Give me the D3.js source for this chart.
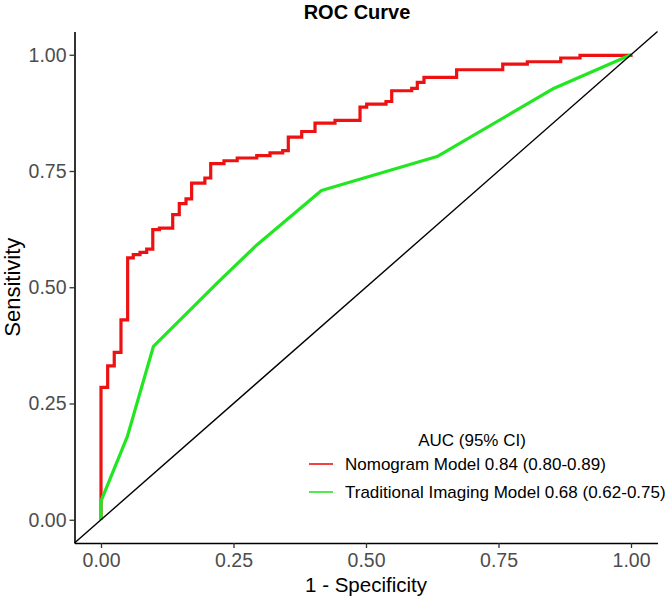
<!DOCTYPE html>
<html>
<head>
<meta charset="utf-8">
<script src="https://cdn.jsdelivr.net/npm/d3@7"></script>
<style>
  body { margin: 0; background: #fff; }
  text { font-family: "Liberation Sans", Arial, sans-serif; }
</style>
</head>
<body>
<svg id="chart"></svg>
<script>
// Nomogram model ROC (step curve)
const nomoFpr = [0, 0, 0.0126, 0.025, 0.0377, 0.0503, 0.0609, 0.0736, 0.0862, 0.0977, 0.1102, 0.1353, 0.1477, 0.1604, 0.171, 0.196, 0.207, 0.232, 0.257, 0.2938, 0.3189, 0.3428, 0.3534, 0.3787, 0.4038, 0.4415, 0.4887, 0.5013, 0.5377, 0.5485, 0.5862, 0.5968, 0.6094, 0.671, 0.758, 0.8044, 0.8674, 0.9038, 1];
const nomoTpr = [0, 0.2845, 0.331, 0.360, 0.430, 0.563, 0.570, 0.575, 0.582, 0.624, 0.627, 0.656, 0.680, 0.690, 0.724, 0.735, 0.766, 0.772, 0.778, 0.783, 0.789, 0.794, 0.823, 0.835, 0.853, 0.859, 0.8875, 0.894, 0.8995, 0.9226, 0.9275, 0.9404, 0.9512, 0.9677, 0.980, 0.985, 0.993, 0.9985, 1];

// Traditional imaging model ROC (few thresholds)
const tradFpr = [0, 0, 0.05, 0.099, 0.22, 0.294, 0.416, 0.634, 0.855, 1];
const tradTpr = [0, 0.04, 0.18, 0.373, 0.51, 0.591, 0.708, 0.781, 0.928, 1];

const xTicks = [0, 0.25, 0.5, 0.75, 1];
const yTicks = [0, 0.25, 0.5, 0.75, 1];
const legendTitle = "AUC (95% CI)";
const legendLabels = ["Nomogram Model 0.84 (0.80-0.89)", "Traditional Imaging Model 0.68 (0.62-0.75)"];
const colors = ["#ee1111", "#22e622"];

const width = 669, height = 600;
const svg = d3.select("#chart").attr("width", width).attr("height", height);

// panel with ggplot-like 5% expansion
const x = d3.scaleLinear().domain([-0.05, 1.05]).range([74.5, 657.5]);
const y = d3.scaleLinear().domain([-0.05, 1.05]).range([543, 31.5]);

const line = d3.line().x(d => x(d[0])).y(d => y(d[1]));
const stepLine = d3.line().x(d => x(d[0])).y(d => y(d[1])).curve(d3.curveStepAfter);

const nomo = nomoFpr.map((v, i) => [v, nomoTpr[i]]);
const trad = tradFpr.map((v, i) => [v, tradTpr[i]]);

svg.append("path").datum(nomo)
  .attr("d", stepLine)
  .attr("fill", "none").attr("stroke", colors[0]).attr("stroke-width", 3.2)
  .attr("stroke-linejoin", "miter");

svg.append("path").datum(trad)
  .attr("d", line)
  .attr("fill", "none").attr("stroke", colors[1]).attr("stroke-width", 3.2)
  .attr("stroke-linejoin", "round");

// reference diagonal across the whole panel
svg.append("line")
  .attr("x1", x(-0.05)).attr("y1", y(-0.05))
  .attr("x2", x(1.05)).attr("y2", y(1.05))
  .attr("stroke", "#000").attr("stroke-width", 1.4);

// axes
const xAxis = svg.append("g").attr("transform", `translate(0,${y(-0.05)})`)
  .call(d3.axisBottom(x).tickValues(xTicks).tickFormat(d3.format(".2f")).tickSize(5).tickSizeOuter(0).tickPadding(5));
const yAxis = svg.append("g").attr("transform", `translate(${x(-0.05)},0)`)
  .call(d3.axisLeft(y).tickValues(yTicks).tickFormat(d3.format(".2f")).tickSize(5).tickSizeOuter(0).tickPadding(3));

[xAxis, yAxis].forEach(g => {
  g.select(".domain").attr("stroke", "#000").attr("stroke-width", 1.6);
  g.selectAll(".tick line").attr("stroke", "#333").attr("stroke-width", 1.3);
  g.selectAll(".tick text").attr("fill", "#4d4d4d").attr("font-size", 19.5)
    .style("font-family", "Liberation Sans, Arial, sans-serif");
});

// titles
svg.append("text").attr("x", 357).attr("y", 19).attr("text-anchor", "middle")
  .attr("font-size", 20).attr("font-weight", "bold").text("ROC Curve");

svg.append("text").attr("x", 366).attr("y", 592).attr("text-anchor", "middle")
  .attr("font-size", 20.5).text("1 - Specificity");

svg.append("text").attr("transform", `translate(20,${y(0.5)}) rotate(-90)`)
  .attr("text-anchor", "middle").attr("font-size", 22).text("Sensitivity");

// legend
const lg = svg.append("g");
lg.append("text").attr("x", 472).attr("y", 446).attr("text-anchor", "middle")
  .attr("font-size", 17).text(legendTitle);
legendLabels.forEach((lab, i) => {
  const yy = 464 + i * 28;
  lg.append("line").attr("x1", 309).attr("x2", 333).attr("y1", yy).attr("y2", yy)
    .attr("stroke", colors[i]).attr("stroke-width", 1.6);
  lg.append("text").attr("x", 345).attr("y", yy + 6).attr("font-size", 17).text(lab);
});
</script>
</body>
</html>
